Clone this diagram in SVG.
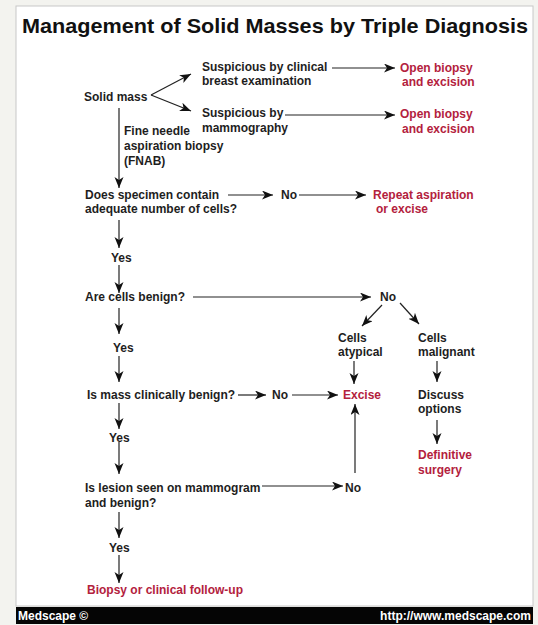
<svg xmlns="http://www.w3.org/2000/svg" width="538" height="625" viewBox="0 0 538 625">
<style>
text{font-family:"Liberation Sans",Arial,sans-serif;font-weight:bold;font-size:12px;fill:#1e1e1e}
.r{fill:#b3213d}
.t{font-size:20.5px;fill:#111}
.f{fill:#fff;font-size:12px}
.c line{stroke:#222;stroke-width:1.2;marker-end:url(#a)}
</style>
<defs>
<marker id="a" markerUnits="userSpaceOnUse" markerWidth="12" markerHeight="10" refX="11" refY="4.5" orient="auto">
<path d="M0,0 L11,4.5 L0,9 L3,4.5 z" fill="#111"/>
</marker>
</defs>
<rect width="538" height="625" fill="#f3f3ef"/>
<rect x="16" y="6" width="517" height="600" fill="#fff" stroke="#c8c8c8" stroke-width="1"/>
<rect x="16" y="607" width="517" height="17" fill="#050505"/>
<g id="title"><text class="t" x="22" y="33" textLength="506" lengthAdjust="spacingAndGlyphs">Management of Solid Masses by Triple Diagnosis</text></g>
<g id="footer"><text class="f" x="18" y="620">Medscape ©</text><text class="f" x="531" y="620" text-anchor="end">http://www.medscape.com</text></g>
<g class="c" id="connectors">
<line x1="151" y1="95" x2="191" y2="74"/>
<line x1="151" y1="95" x2="191" y2="111"/>
<line x1="332" y1="68" x2="395" y2="68"/>
<line x1="285" y1="115" x2="395" y2="115"/>
<line x1="119" y1="108" x2="119" y2="188"/>
<line x1="228" y1="195" x2="273" y2="195"/>
<line x1="299" y1="195" x2="366" y2="195"/>
<line x1="119" y1="220" x2="119" y2="248"/>
<line x1="119" y1="265" x2="119" y2="293"/>
<line x1="193" y1="297" x2="371" y2="297"/>
<line x1="382" y1="305" x2="362" y2="326"/>
<line x1="400" y1="303" x2="419" y2="324"/>
<line x1="354" y1="361" x2="354" y2="384"/>
<line x1="437" y1="361" x2="437" y2="382"/>
<line x1="437" y1="420" x2="437" y2="444"/>
<line x1="119" y1="308" x2="119" y2="334"/>
<line x1="119" y1="356" x2="119" y2="382"/>
<line x1="238" y1="395" x2="266" y2="395"/>
<line x1="292" y1="395" x2="338" y2="395"/>
<line x1="355" y1="473" x2="355" y2="404"/>
<line x1="119" y1="403" x2="119" y2="429"/>
<line x1="119" y1="442" x2="119" y2="474"/>
<line x1="262" y1="486" x2="343" y2="486"/>
<line x1="119" y1="512" x2="119" y2="538"/>
<line x1="119" y1="555" x2="119" y2="583"/>
</g>
<g id="solid-mass"><text x="84" y="101">Solid mass</text></g>
<g id="susp-clinical"><text x="202" y="71">Suspicious by clinical</text><text x="202" y="85">breast examination</text></g>
<g id="open-biopsy-1"><text class="r" x="400" y="72">Open biopsy</text><text class="r" x="402" y="86">and excision</text></g>
<g id="susp-mammo"><text x="202" y="117">Suspicious by</text><text x="202" y="132">mammography</text></g>
<g id="open-biopsy-2"><text class="r" x="400" y="118">Open biopsy</text><text class="r" x="402" y="133">and excision</text></g>
<g id="fnab"><text x="124" y="135">Fine needle</text><text x="124" y="150">aspiration biopsy</text><text x="124" y="165">(FNAB)</text></g>
<g id="adequate"><text x="85" y="199">Does specimen contain</text><text x="85" y="213">adequate number of cells?</text></g>
<g id="no-1"><text x="281" y="199">No</text></g>
<g id="repeat"><text class="r" x="373" y="199">Repeat aspiration</text><text class="r" x="376" y="213">or excise</text></g>
<g id="yes-1"><text x="111" y="262">Yes</text></g>
<g id="benign"><text x="85" y="301">Are cells benign?</text></g>
<g id="no-2"><text x="380" y="301">No</text></g>
<g id="atypical"><text x="338" y="342">Cells</text><text x="338" y="356">atypical</text></g>
<g id="malignant"><text x="418" y="342">Cells</text><text x="418" y="356">malignant</text></g>
<g id="yes-2"><text x="113" y="352">Yes</text></g>
<g id="clin-benign"><text x="87" y="399">Is mass clinically benign?</text></g>
<g id="no-3"><text x="272" y="399">No</text></g>
<g id="excise"><text class="r" x="343" y="399">Excise</text></g>
<g id="discuss"><text x="418" y="399">Discuss</text><text x="418" y="413">options</text></g>
<g id="definitive"><text class="r" x="418" y="459">Definitive</text><text class="r" x="418" y="474">surgery</text></g>
<g id="yes-3"><text x="109" y="442">Yes</text></g>
<g id="lesion"><text x="85" y="492">Is lesion seen on mammogram</text><text x="85" y="507">and benign?</text></g>
<g id="no-4"><text x="345" y="492">No</text></g>
<g id="yes-4"><text x="109" y="552">Yes</text></g>
<g id="follow-up"><text class="r" x="87" y="594">Biopsy or clinical follow-up</text></g>
</svg>
